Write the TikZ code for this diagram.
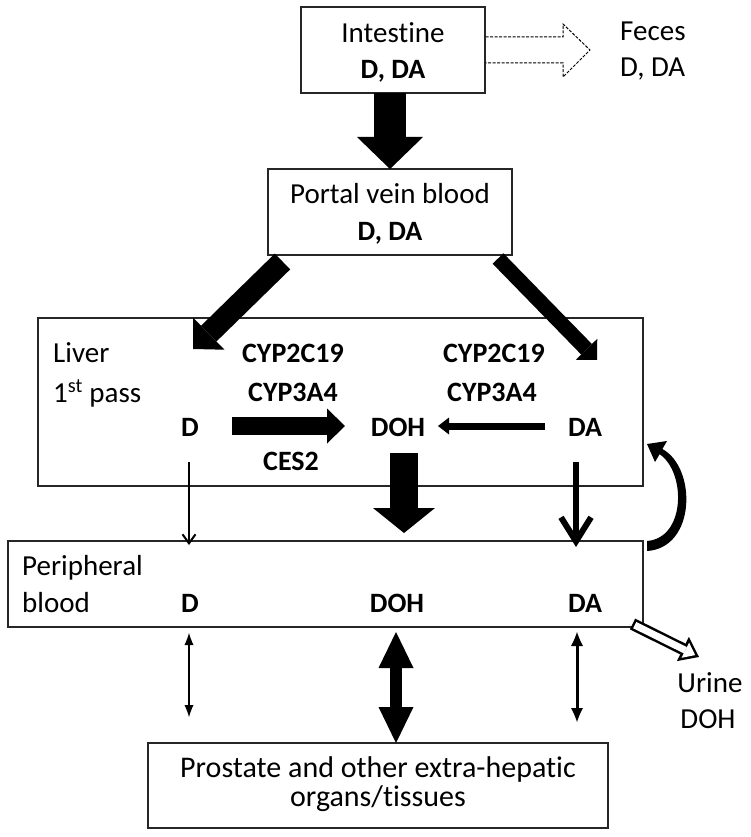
\documentclass[tikz,border=0pt]{standalone}
\usepackage{fontspec}
\setmainfont{Carlito}[Ligatures={NoCommon,NoRequired,NoContextual,NoDiscretionary}]
\usetikzlibrary{arrows.meta,calc}
\begin{document}
\begin{tikzpicture}[x=1pt,y=-1pt,
  every node/.style={font=\fontsize{29}{35}\selectfont},
  box/.style={draw=black!85, line width=1.3pt, inner sep=0pt},
  lbl/.style={inner sep=0pt, anchor=base},
  lblw/.style={inner sep=0pt, anchor=base west},
  blbl/.style={inner sep=0pt, anchor=base, font=\fontsize{28}{34}\selectfont\bfseries},
  fat/.style={line width=#1, draw=black},
  dashout/.style={draw=black, line width=1pt, dash pattern=on 3pt off 1.5pt}
]
\useasboundingbox (0,0) rectangle (751,837);

% boxes
\node[box, minimum width=184pt, minimum height=86pt] (int) at (393,50) {};
\node[box, minimum width=244pt, minimum height=86pt] (portal) at (390,212) {};
\node[box, minimum width=605pt, minimum height=168pt] (liver) at (340.5,402) {};
\node[box, minimum width=635pt, minimum height=86pt] (periph) at (325.5,584) {};
\node[box, minimum width=460pt, minimum height=85pt] (prost) at (378,785.5) {};

% texts
\node[lbl] (intT) at (393,43) {Intest\kern0pt ine};
\node[blbl] (intD) at (393,79) {D, DA};
\node[lblw] (fecT) at (620,41) {Feces};
\node[lblw] (fecD) at (620,77) {D, DA};
\node[lbl] (porT) at (390,203) {Portal vein blood};
\node[blbl] (porD) at (390,240) {D, DA};
\node[lblw] (livT) at (53,362) {Liver};
\node[lblw] (livP) at (53,402) {1\textsuperscript{st} pass};
\node[blbl] (cypA) at (293,362) {CYP2C19};
\node[blbl] (cypB) at (293,401) {CYP3A4};
\node[blbl] (cypC) at (494,362) {CYP2C19};
\node[blbl] (cypD) at (492,401) {CYP3A4};
\node[blbl] (lD) at (190,436) {D};
\node[blbl] (lDOH) at (398,436) {DOH};
\node[blbl] (lDA) at (585,436) {DA};
\node[blbl] (ces) at (291,470) {CES2};
\node[lblw] (perT) at (22,575) {Peripheral};
\node[lblw] (perB) at (22,612) {blood};
\node[blbl] (pD) at (190,612) {D};
\node[blbl] (pDOH) at (397,612) {DOH};
\node[blbl] (pDA) at (585,612) {DA};
\node[lbl, font=\fontsize{30}{36}\selectfont] (proT) at (378,777) {Prostate and other extra-hepatic};
\node[lbl, font=\fontsize{30}{36}\selectfont] (proB) at (378,806) {organs/tissues};
\node[lbl] (urT) at (710,692) {Urine};
\node[lbl] (urD) at (708,728) {DOH};

% feces dashed open arrow
\draw[dashout] ($(int.east)+(0,-13)$) -- (563,37) -- (563,24) -- (590,50) -- (563,77) -- (563,63) -- ($(int.east)+(0,13)$);

% coordinates for connectors
\coordinate (a1s) at (390,93);   \coordinate (a1e) at (390,169);
\coordinate (a2s) at (282.5,261.5); \coordinate (a2e) at (193,349);
\coordinate (a3s) at (498,258.5); \coordinate (a3e) at (597,360);
\coordinate (a4s) at (232,426);  \coordinate (a4e) at (345,426);
\coordinate (a5s) at (545,426);  \coordinate (a5e) at (438,426);
\coordinate (a6s) at (404,453);  \coordinate (a6e) at (404,533);
\coordinate (a7s) at (189,462);  \coordinate (a7e) at (189,545);
\coordinate (a8s) at (576,462);  \coordinate (a8e) at (576,547);
\coordinate (b1s) at (189,633);  \coordinate (b1e) at (189,717);
\coordinate (b2s) at (396,632);  \coordinate (b2e) at (396,743);
\coordinate (b3s) at (577,632);  \coordinate (b3e) at (577,722);
\coordinate (us) at (632.5,624); \coordinate (ue) at (699,657);

\draw[fat=32pt, -{Triangle[length=32pt,width=66pt,line width=0pt]}] (a1s) -- (a1e);
\draw[fat=22pt, -{Triangle[length=22pt,width=45pt,line width=0pt]}] (a2s) -- (a2e);
\draw[fat=15pt, -{Triangle[length=15pt,width=30pt,line width=0pt]}] (a3s) -- (a3e);
\draw[fat=18pt, -{Triangle[length=18pt,width=35pt,line width=0pt]}] (a4s) -- (a4e);
\draw[fat=7pt, -{Triangle[length=11pt,width=17pt,line width=0pt]}] (a5s) -- (a5e);
\draw[fat=28pt, -{Triangle[length=25pt,width=62pt,line width=0pt]}] (a6s) -- (a6e);
\draw[fat=2pt, -{Straight Barb[length=9pt,width=13pt]}] (a7s) -- (a7e);
\draw[fat=6pt, -{Straight Barb[length=24pt,width=30pt]}] (a8s) -- (a8e);

\draw[fat=2pt, {Latex[length=12pt,width=9pt,line width=0pt]}-{Latex[length=12pt,width=9pt,line width=0pt]}] (b1s) -- (b1e);
\draw[fat=12pt, {Triangle[length=36pt,width=35pt,line width=0pt]}-{Triangle[length=36pt,width=35pt,line width=0pt]}] (b2s) -- (b2e);
\draw[fat=3pt, {Latex[length=14pt,width=12pt,line width=0pt]}-{Latex[length=14pt,width=12pt,line width=0pt]}] (b3s) -- (b3e);

% urine hollow arrow
\draw[fat=12pt, -{Triangle[length=18pt,width=27pt,line width=0pt]}] (us) -- (ue);
\draw[white, line width=7pt, shorten <=2.5pt, shorten >=4.3pt, -{Triangle[length=11pt,width=17pt,line width=0pt]}] (us) -- (ue);

% curved return arrow (periph -> liver)
\fill (647,551) .. controls (696,548) and (697,468) .. (662.4,449) -- (667,441) -- (647,444) -- (655,462) -- (659.6,454.2) .. controls (686,472) and (686,538) .. (647,541) -- cycle;
\end{tikzpicture}
\end{document}
